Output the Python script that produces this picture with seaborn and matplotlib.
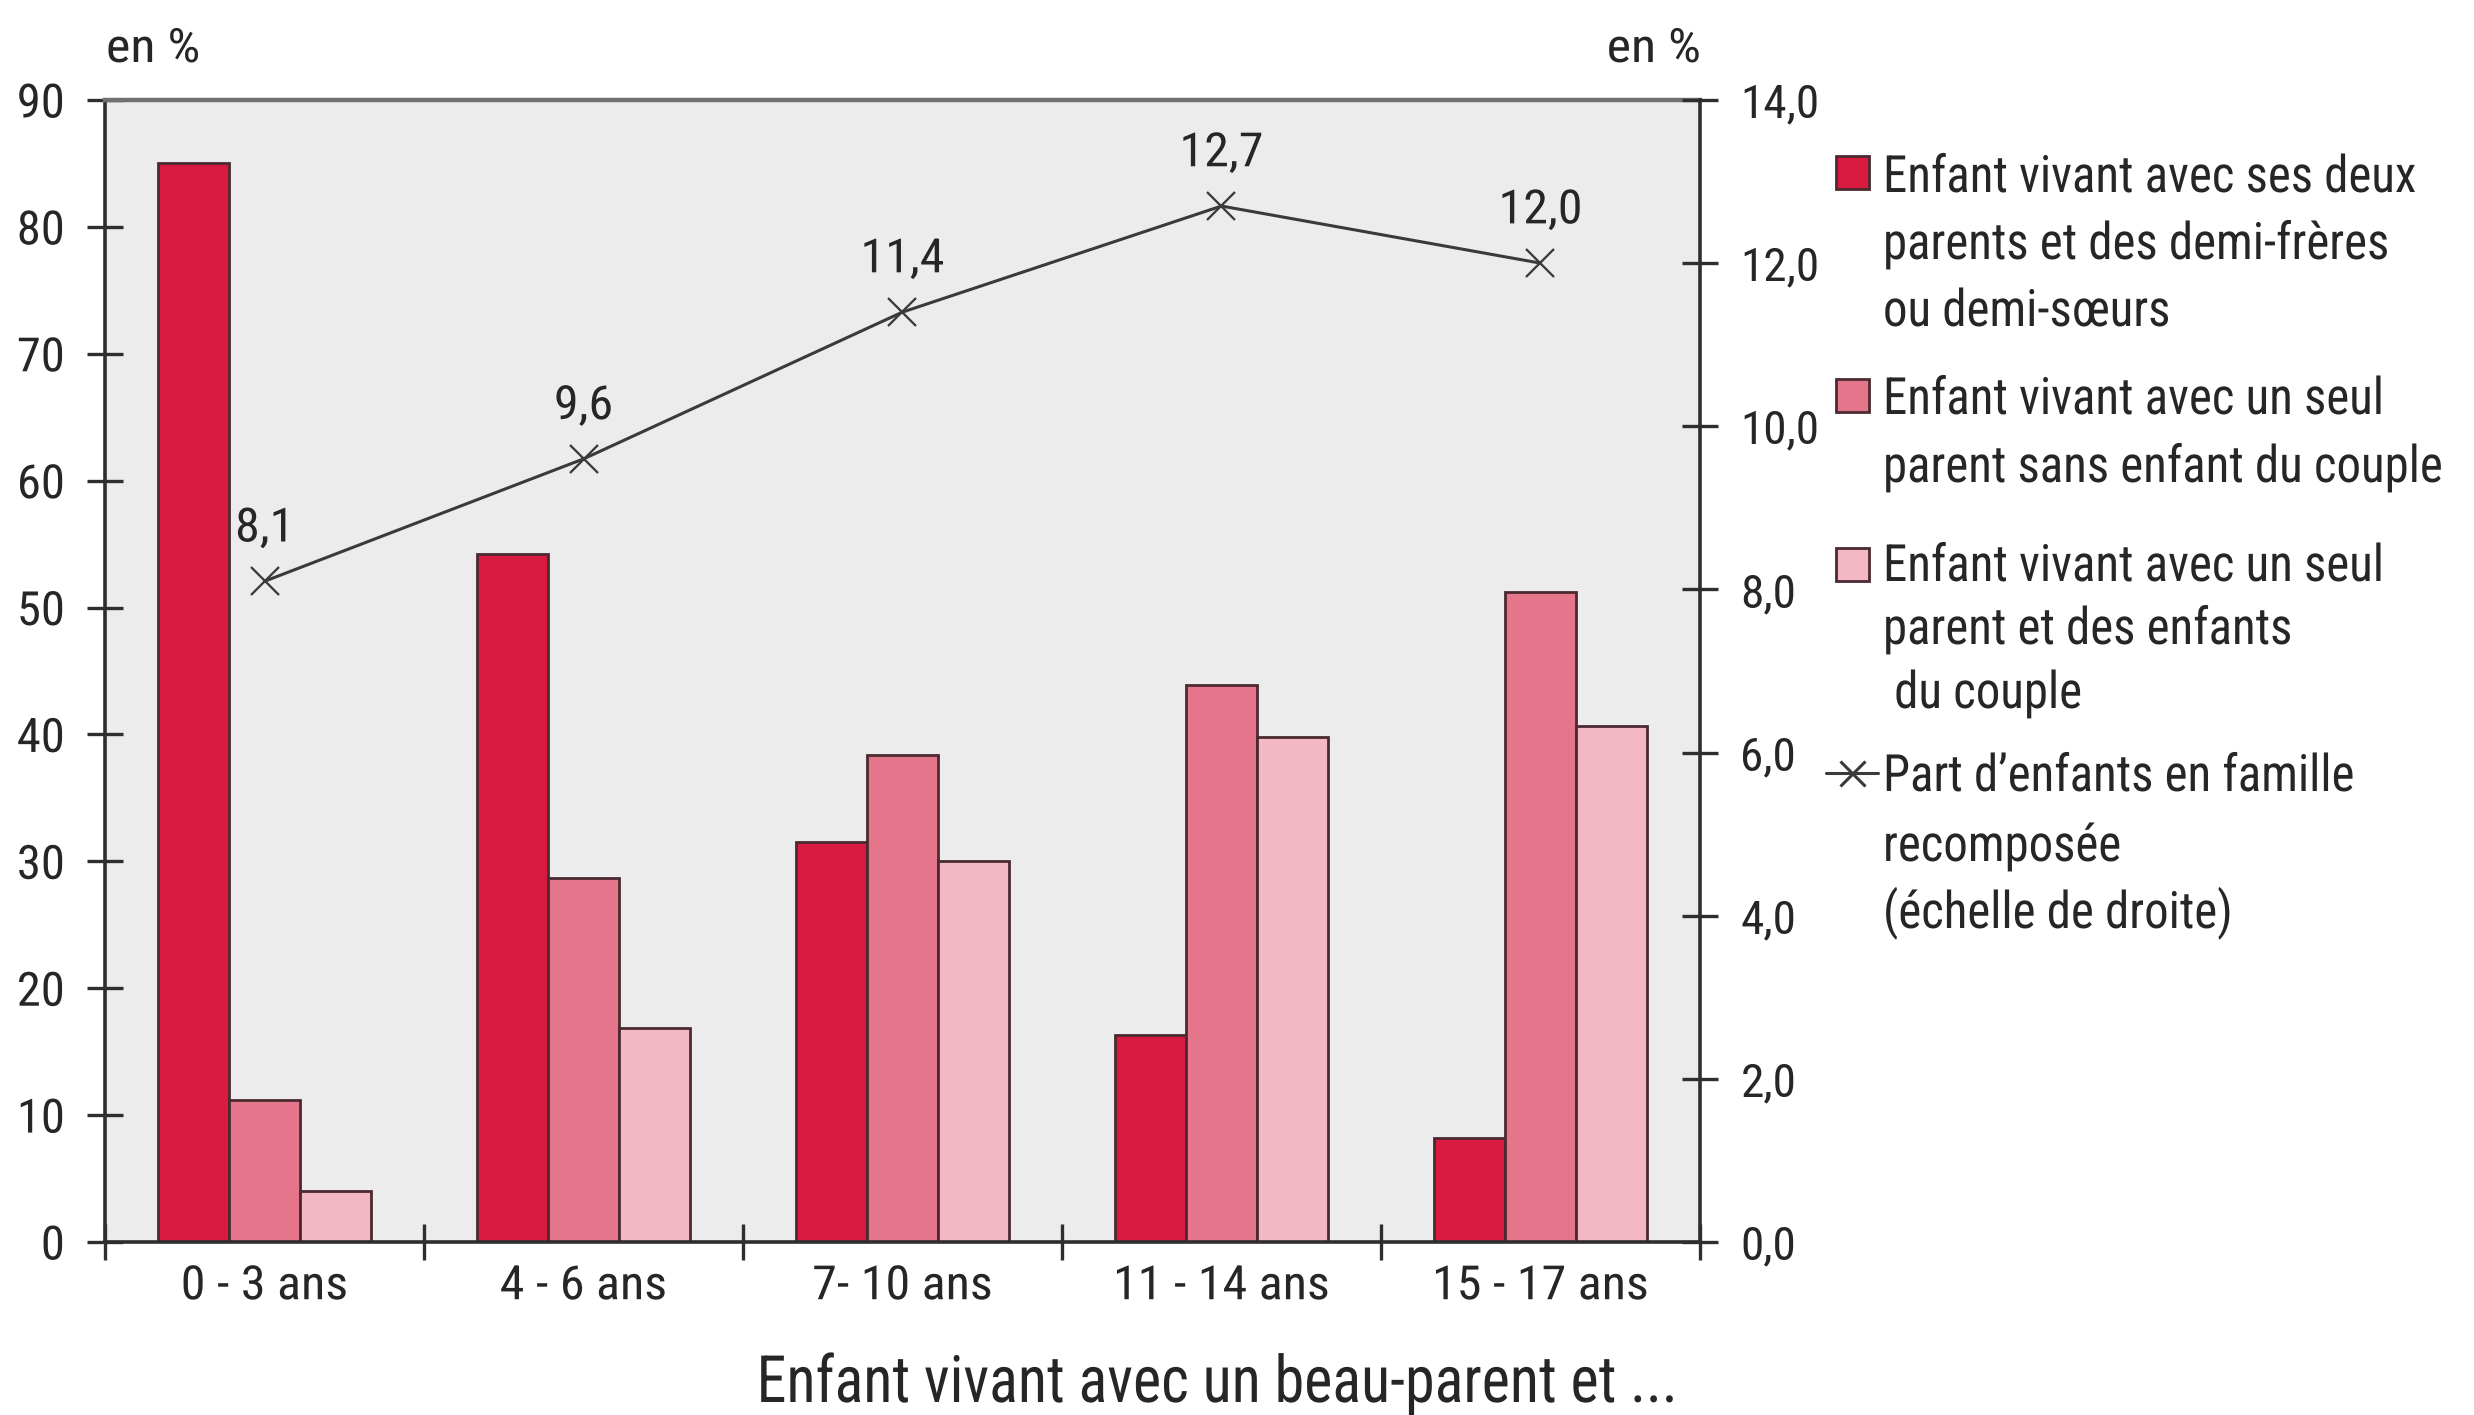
import numpy as np
import pandas as pd
import matplotlib
matplotlib.use("Agg")
import matplotlib.pyplot as plt
from matplotlib import font_manager
from matplotlib.patches import Rectangle
from matplotlib.lines import Line2D
from matplotlib.patheffects import AbstractPathEffect
from matplotlib.transforms import Affine2D
from matplotlib.ticker import FixedLocator, FuncFormatter
import seaborn as sns

# Age groups of children living with a step-parent
age_groups = ["0 - 3 ans", "4 - 6 ans", "7- 10 ans", "11 - 14 ans", "15 - 17 ans"]

# Left scale (en %): distribution by family configuration
deux_parents = [85.0, 54.2, 31.5, 16.3, 8.2]
seul_sans_enfant = [11.2, 28.7, 38.4, 43.9, 51.2]
seul_avec_enfants = [4.0, 16.9, 30.0, 39.8, 40.7]

# Right scale (en %): share of children in a blended family
part_recomposee = [8.1, 9.6, 11.4, 12.7, 12.0]

series_keys = ["deux", "sans", "avec"]
series_labels = [
    ["Enfant vivant avec ses deux", "parents et des demi-frères", "ou demi-sœurs"],
    ["Enfant vivant avec un seul", "parent sans enfant du couple"],
    ["Enfant vivant avec un seul", "parent et des enfants", " du couple"],
]
line_label = ["Part d\u2019enfants en famille", "recomposée", "(échelle de droite)"]

bar_colors = ["#D81B3E", "#E5758B", "#F3B8C4"]
edge_color = "#4A2A30"
line_color = "#3A3A3A"
axis_color = "#2E2E2E"
text_color = "#262626"

sns.set_theme(style="white")

# Prefer a narrow sans-serif; the horizontal width of each text is then fine-tuned.
installed = {f.name for f in font_manager.fontManager.ttflist}
narrow_candidates = ["Liberation Sans Narrow", "Arial Narrow", "Roboto Condensed",
                     "DejaVu Sans Condensed", "Open Sans Condensed"]
narrow = next((n for n in narrow_candidates if n in installed), None)
base_font = narrow if narrow else "Liberation Sans"
plt.rcParams["font.family"] = [base_font, "DejaVu Sans"]
plt.rcParams["text.color"] = text_color

if narrow == "Roboto Condensed":
    widths = dict(legend=0.95, xlabel=0.92, xticks=1.06, yticks=1.03,
                  y2ticks=1.0, values=1.06, unit=1.1)
elif narrow:
    widths = dict(legend=1.0, xlabel=1.0, xticks=1.08, yticks=1.08,
                  y2ticks=1.05, values=1.08, unit=1.08)
else:
    widths = dict(legend=0.81, xlabel=0.81, xticks=0.88, yticks=0.9,
                  y2ticks=0.88, values=0.9, unit=0.9)


class Squeeze(AbstractPathEffect):
    """Draw text glyphs scaled horizontally around an anchor."""

    def __init__(self, factor, anchor="left"):
        super().__init__()
        self.factor = factor
        self.anchor = anchor

    def draw_path(self, renderer, gc, tpath, affine, rgbFace=None):
        ext = tpath.get_extents()
        if self.anchor == "center":
            x0 = 0.5 * (ext.x0 + ext.x1)
        elif self.anchor == "right":
            x0 = ext.x1
        else:
            x0 = 0.0
        tr = Affine2D().translate(-x0, 0).scale(self.factor, 1.0).translate(x0, 0)
        renderer.draw_path(gc, tpath, tr + affine, rgbFace)


def narrowed(artist, key, anchor):
    factor = widths[key]
    if abs(factor - 1.0) > 1e-3:
        artist.set_path_effects([Squeeze(factor, anchor)])
    return artist


W, H = 2474, 1415
DPI = 200
fig = plt.figure(figsize=(W / DPI, H / DPI), dpi=DPI)


def fx(px):
    return px / W


def fy(py):
    return 1 - py / H


ax = fig.add_axes([fx(105), fy(1242), fx(1700) - fx(105), fy(100) - fy(1242)])
ax.set_facecolor("#ECECEC")

bars = pd.DataFrame({
    "age": age_groups * 3,
    "serie": [k for k in series_keys for _ in age_groups],
    "valeur": deux_parents + seul_sans_enfant + seul_avec_enfants,
})
sns.barplot(data=bars, x="age", y="valeur", hue="serie", order=age_groups,
            hue_order=series_keys, palette=bar_colors, saturation=1,
            width=0.67, gap=0, edgecolor=edge_color, linewidth=1.0,
            legend=False, ax=ax)

ax2 = ax.twinx()
line_df = pd.DataFrame({"age": age_groups, "part": part_recomposee})
sns.pointplot(data=line_df, x="age", y="part", order=age_groups,
              color=line_color, markers="x", markersize=10,
              linewidth=1.1, errorbar=None, ax=ax2)

for i, v in enumerate(part_recomposee):
    t = ax2.annotate(f"{v:.1f}".replace(".", ","), (i, v), xytext=(0, 19),
                     textcoords="offset points", ha="center", va="center",
                     fontsize=17, color=text_color)
    narrowed(t, "values", "center")

# Scales
ax.set_xlim(-0.5, len(age_groups) - 0.5)
ax.set_ylim(0, 90)
ax2.set_ylim(0, 14)
ax.set_yticks(np.arange(0, 91, 10))
ax2.set_yticks(np.arange(0, 14.1, 2))
ax2.yaxis.set_major_formatter(FuncFormatter(lambda v, p: f"{v:.1f}".replace(".", ",")))

ax.set_xticks(range(len(age_groups)))
ax.set_xticklabels(age_groups)
ax.xaxis.set_minor_locator(FixedLocator(np.arange(-0.5, len(age_groups), 1.0)))

ax.set_xlabel("")
ax.set_ylabel("")
ax2.set_xlabel("")
ax2.set_ylabel("")

ax.tick_params(axis="x", which="major", length=0, pad=8, labelsize=17, labelcolor=text_color)
ax.tick_params(axis="x", which="minor", length=13, width=1.2, direction="inout",
               color=axis_color, bottom=True)
ax.tick_params(axis="y", which="major", length=13, width=1.2, direction="inout",
               color=axis_color, pad=8, labelsize=17, labelcolor=text_color, left=True)
ax2.tick_params(axis="y", which="major", length=13, width=1.2, direction="inout",
                color=axis_color, pad=8, labelsize=17, labelcolor=text_color, right=True)

for lab in ax.get_xticklabels():
    narrowed(lab, "xticks", "center")
for lab in ax.get_yticklabels():
    narrowed(lab, "yticks", "right")
for lab in ax2.get_yticklabels():
    narrowed(lab, "y2ticks", "left")

for name, sp in ax.spines.items():
    sp.set_visible(name in ("left", "bottom", "top"))
    sp.set_color(axis_color)
    sp.set_linewidth(1.3)
ax.spines["top"].set_color("#707070")
ax.spines["top"].set_linewidth(1.6)
for name, sp in ax2.spines.items():
    sp.set_visible(name == "right")
    sp.set_color(axis_color)
    sp.set_linewidth(1.3)

# Unit captions above each scale
narrowed(fig.text(fx(106), fy(49), "en %", ha="left", va="center", fontsize=17), "unit", "left")
narrowed(fig.text(fx(1701), fy(49), "en %", ha="right", va="center", fontsize=17), "unit", "right")

# Axis caption
narrowed(fig.text(fx(1217), fy(1402), "Enfant vivant avec un beau-parent et ...",
                  ha="center", va="baseline", fontsize=23.5), "xlabel", "center")

# Legend, drawn beside the right scale
patch_tops = [156, 379, 548]
baselines = [[192, 259, 326], [414, 482], [581, 644, 708]]
text_x = 1883
for color, top, lines, bls in zip(bar_colors, patch_tops, series_labels, baselines):
    fig.add_artist(Rectangle((fx(1836), fy(top + 33)), fx(1869) - fx(1836),
                             fy(top) - fy(top + 33), transform=fig.transFigure,
                             facecolor=color, edgecolor=edge_color, linewidth=1.0))
    for txt, bl in zip(lines, bls):
        narrowed(fig.text(fx(text_x), fy(bl), txt, ha="left", va="baseline",
                          fontsize=18.5), "legend", "left")

fig.add_artist(Line2D([fx(1826), fx(1878)], [fy(773), fy(773)], transform=fig.transFigure,
                      color=line_color, linewidth=1.1))
fig.add_artist(Line2D([fx(1852)], [fy(773)], transform=fig.transFigure, color=line_color,
                      marker="x", markersize=9, markeredgewidth=1.1, linestyle="none"))
for txt, bl in zip(line_label, [791, 861, 928]):
    narrowed(fig.text(fx(text_x), fy(bl), txt, ha="left", va="baseline",
                      fontsize=18.5), "legend", "left")

fig.savefig("out.png", dpi=DPI, facecolor="white")
